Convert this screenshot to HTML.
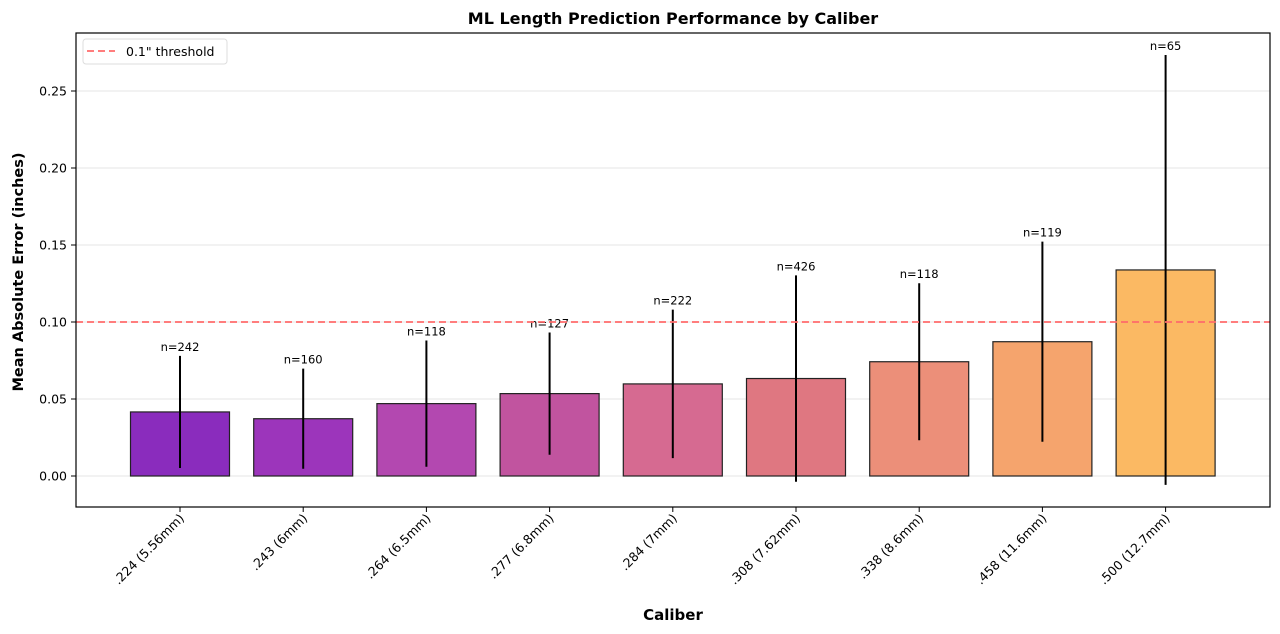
<!DOCTYPE html>
<html><head><meta charset="utf-8"><style>
body{margin:0;background:#fff;}
svg{display:block;font-family:"DejaVu Sans","Liberation Sans",sans-serif;}
</style></head><body>
<svg id="chart" width="1280" height="634" xmlns="http://www.w3.org/2000/svg"></svg>
<script>
const categories=[".224 (5.56mm)",".243 (6mm)",".264 (6.5mm)",".277 (6.8mm)",".284 (7mm)",".308 (7.62mm)",".338 (8.6mm)",".458 (11.6mm)",".500 (12.7mm)"];
const maeValues=[0.0416,0.0372,0.0470,0.0535,0.0598,0.0633,0.0742,0.0872,0.1338];
const errValues=[0.0364,0.0325,0.0410,0.0397,0.0482,0.0670,0.0510,0.0650,0.1396];
const counts=[242,160,118,127,222,426,118,119,65];
const colors=["#8a2cbd","#9c35bb","#b348b0","#c1549f","#d66a91","#df7781","#ec8f79","#f5a46d","#fbb963"];
const yTicks=[0,0.05,0.10,0.15,0.20,0.25];
const yTickLabels=["0.00","0.05","0.10","0.15","0.20","0.25"];
const threshold=0.1;

const NS="http://www.w3.org/2000/svg";
const svg=document.getElementById('chart');
const L=76,R=1270,T=33,B=507;
const y=v=>476-v*1540;
const step=123.2, x0=180;
const x=i=>x0+i*step;
function mk(tag,attrs,parent){const e=document.createElementNS(NS,tag);for(const k in attrs)e.setAttribute(k,attrs[k]);(parent||svg).appendChild(e);return e;}

yTicks.forEach((t,i)=>{
  const g=mk('line',{x1:L,x2:R,y1:y(t),y2:y(t),stroke:'#e6e6e6','stroke-width':1});
  
  
  mk('line',{x1:L-5,x2:L,y1:y(t),y2:y(t),stroke:'#000','stroke-width':1});
  const tx=mk('text',{x:L-9,y:y(t)+4.5,'text-anchor':'end','font-size':12.5});
  tx.textContent=yTickLabels[i];
  
  
});
categories.forEach((c,i)=>{
  const r=mk('rect',{x:x(i)-49.5,y:y(maeValues[i]),width:99,height:y(0)-y(maeValues[i]),fill:colors[i],stroke:'#222','stroke-width':1.2});
  
  
  const e=mk('line',{x1:x(i),x2:x(i),y1:y(maeValues[i]+errValues[i]),y2:y(maeValues[i]-errValues[i]),stroke:'#000','stroke-width':2});
  
  
  const n=mk('text',{x:x(i),y:y(maeValues[i]+errValues[i])-5,'text-anchor':'middle','font-size':11.5});
  n.textContent='n='+counts[i];
  
  
  mk('line',{x1:x(i),x2:x(i),y1:B,y2:B+5,stroke:'#000','stroke-width':1});
  const lx=x(i)+5, ly=B+12;
  const t=mk('text',{x:lx,y:ly,'text-anchor':'end','font-size':12.5,transform:`rotate(-45 ${lx} ${ly})`});
  t.textContent=c;
  
  
});
const th=mk('line',{x1:L,x2:R,y1:y(threshold),y2:y(threshold),stroke:'#ff6b6b','stroke-width':1.8,'stroke-dasharray':'7,4'});


const fr=mk('rect',{x:L,y:T,width:R-L,height:B-T,fill:'none',stroke:'#000','stroke-width':1.2});


const lg=mk('g',{});


mk('rect',{x:83,y:39,width:144,height:25,rx:3,fill:'#fff',stroke:'#ddd'},lg);
mk('line',{x1:87,x2:115,y1:51,y2:51,stroke:'#ff6b6b','stroke-width':1.8,'stroke-dasharray':'7,4'},lg);
const lt=mk('text',{x:126,y:56,'font-size':12.5},lg);lt.textContent='0.1" threshold';
const ti=mk('text',{x:673,y:24,'text-anchor':'middle','font-size':16,'font-weight':'bold'});ti.textContent='ML Length Prediction Performance by Caliber';

const xl=mk('text',{x:673,y:620,'text-anchor':'middle','font-size':15,'font-weight':'bold'});xl.textContent='Caliber';

const yl=mk('text',{x:23,y:272,'text-anchor':'middle','font-size':14.5,'font-weight':'bold',transform:'rotate(-90 23 272)'});yl.textContent='Mean Absolute Error (inches)';

</script>
</body></html>
